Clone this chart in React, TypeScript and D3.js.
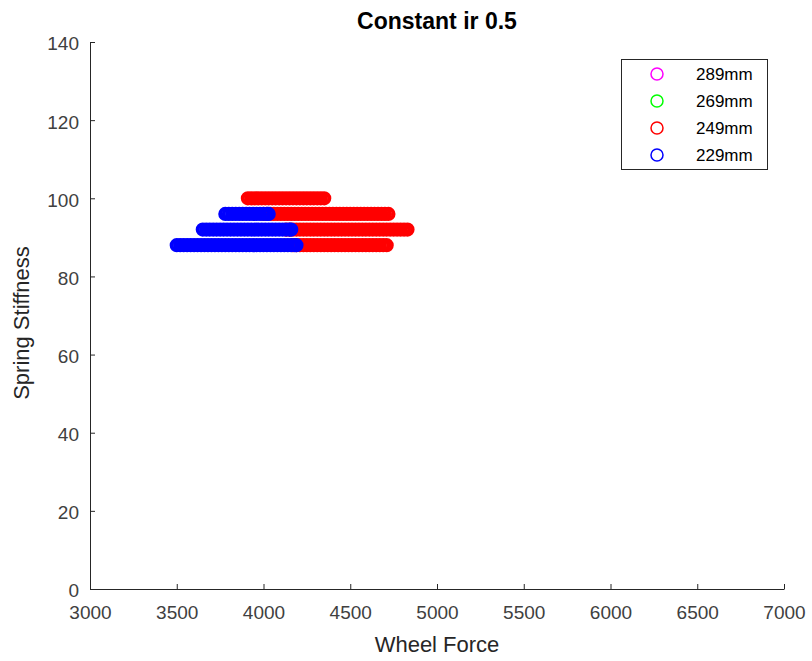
import React, { useRef, useEffect } from "react";
import * as d3 from "d3";

// wheel force values per stiffness row
const red100 = [3910, 3930, 3950, 3970, 3990, 4010, 4030, 4050, 4070, 4090, 4110, 4130, 4150, 4170, 4190, 4210, 4230, 4250, 4270, 4290, 4310, 4330, 4350];
const red96 = [4000, 4020, 4040, 4060, 4080, 4100, 4120, 4140, 4160, 4180, 4200, 4220, 4240, 4260, 4280, 4300, 4320, 4340, 4360, 4380, 4400, 4420, 4440, 4460, 4480, 4500, 4520, 4540, 4560, 4580, 4600, 4620, 4640, 4660, 4680, 4700, 4720];
const red92 = [4130, 4150, 4170, 4190, 4210, 4230, 4250, 4270, 4290, 4310, 4330, 4350, 4370, 4390, 4410, 4430, 4450, 4470, 4490, 4510, 4530, 4550, 4570, 4590, 4610, 4630, 4650, 4670, 4690, 4710, 4730, 4750, 4770, 4790, 4810, 4830];
const red88 = [4170, 4190, 4210, 4230, 4250, 4270, 4290, 4310, 4330, 4350, 4370, 4390, 4410, 4430, 4450, 4470, 4490, 4510, 4530, 4550, 4570, 4590, 4610, 4630, 4650, 4670, 4690, 4710];
const blue96 = [3780, 3800, 3820, 3840, 3860, 3880, 3900, 3920, 3940, 3960, 3980, 4000, 4020, 4030];
const blue92 = [3650, 3670, 3690, 3710, 3730, 3750, 3770, 3790, 3810, 3830, 3850, 3870, 3890, 3910, 3930, 3950, 3970, 3990, 4010, 4030, 4050, 4070, 4090, 4110, 4130, 4150, 4160];
const blue88 = [3500, 3520, 3540, 3560, 3580, 3600, 3620, 3640, 3660, 3680, 3700, 3720, 3740, 3760, 3780, 3800, 3820, 3840, 3860, 3880, 3900, 3920, 3940, 3960, 3980, 4000, 4020, 4040, 4060, 4080, 4100, 4120, 4140, 4160, 4180, 4190];

const legendLabels = ["289mm", "269mm", "249mm", "229mm"];
const seriesColors = ["#ff00ff", "#00ff00", "#ff0000", "#0000ff"];
const xTicks = [3000, 3500, 4000, 4500, 5000, 5500, 6000, 6500, 7000];
const yTicks = [0, 20, 40, 60, 80, 100, 120, 140];

// rows: [stiffness, forces]
const s289: [number, number[]][] = [];
const s269: [number, number[]][] = [];
const s249: [number, number[]][] = [[100, red100], [96, red96], [92, red92], [88, red88]];
const s229: [number, number[]][] = [[96, blue96], [92, blue92], [88, blue88]];
const allSeries = [s289, s269, s249, s229];

const FONT = "'Liberation Sans', Arial, Helvetica, sans-serif";

const App = () => {
  const xAxisRef = useRef<SVGGElement>(null);
  const yAxisRef = useRef<SVGGElement>(null);

  const x = d3.scaleLinear().domain([3000, 7000]).range([90, 784]);
  const y = d3.scaleLinear().domain([0, 140]).range([589, 42]);

  useEffect(() => {
    const gx = d3.select(xAxisRef.current);
    gx.call(
      d3.axisBottom(x).tickValues(xTicks).tickFormat(d3.format("d")).tickSizeInner(-5).tickSizeOuter(0).tickPadding(17)
    );
    const gy = d3.select(yAxisRef.current);
    gy.call(
      d3.axisLeft(y).tickValues(yTicks).tickFormat(d3.format("d")).tickSizeInner(-5).tickSizeOuter(0).tickPadding(11)
    );
    [gx, gy].forEach((g) => {
      g.attr("font-family", FONT).attr("font-size", 19);
      g.select(".domain").attr("stroke", "#262626");
      g.selectAll(".tick line").attr("stroke", "#262626");
      g.selectAll(".tick text").attr("fill", "#404040");
    });
    gy.selectAll(".tick text").attr("dy", "0.42em");
  }, []);

  const points: { f: number; k: number; c: string }[] = [];
  allSeries.forEach((s, i) =>
    s.forEach(([k, fs]) => fs.forEach((f) => points.push({ f, k, c: seriesColors[i] })))
  );

  return (
    <svg width={812} height={661} style={{ position: "absolute", left: 0, top: 0, background: "#fff" }}>
      <rect width={812} height={661} fill="#fff" />
      <g>
        {points.map((p, i) => (
          <circle key={i} cx={x(p.f)} cy={y(p.k)} r={5.1} fill="none" stroke={p.c} strokeWidth={4} />
        ))}
      </g>
      <g ref={xAxisRef} transform="translate(0,589)" />
      <g ref={yAxisRef} transform="translate(90,0)" />
      <text x={437} y={29} textAnchor="middle" fontFamily={FONT} fontWeight="bold" fontSize={23} fill="#000">
        Constant ir 0.5
      </text>
      <text x={437} y={652} textAnchor="middle" fontFamily={FONT} fontSize={22} fill="#262626">
        Wheel Force
      </text>
      <text transform="translate(29,323) rotate(-90)" textAnchor="middle" fontFamily={FONT} fontSize={22} fill="#262626">
        Spring Stiffness
      </text>
      <g>
        <rect x={621.5} y={59.5} width={146} height={110} fill="#fff" stroke="#262626" strokeWidth={1} />
        {legendLabels.map((lab, i) => (
          <g key={lab} transform={`translate(0,${74 + i * 27})`}>
            <circle cx={657} cy={0} r={6} fill="none" stroke={seriesColors[i]} strokeWidth={1.5} />
            <text x={696} y={6} fontFamily={FONT} fontSize={17} fill="#000">
              {lab}
            </text>
          </g>
        ))}
      </g>
    </svg>
  );
};

export default App;
